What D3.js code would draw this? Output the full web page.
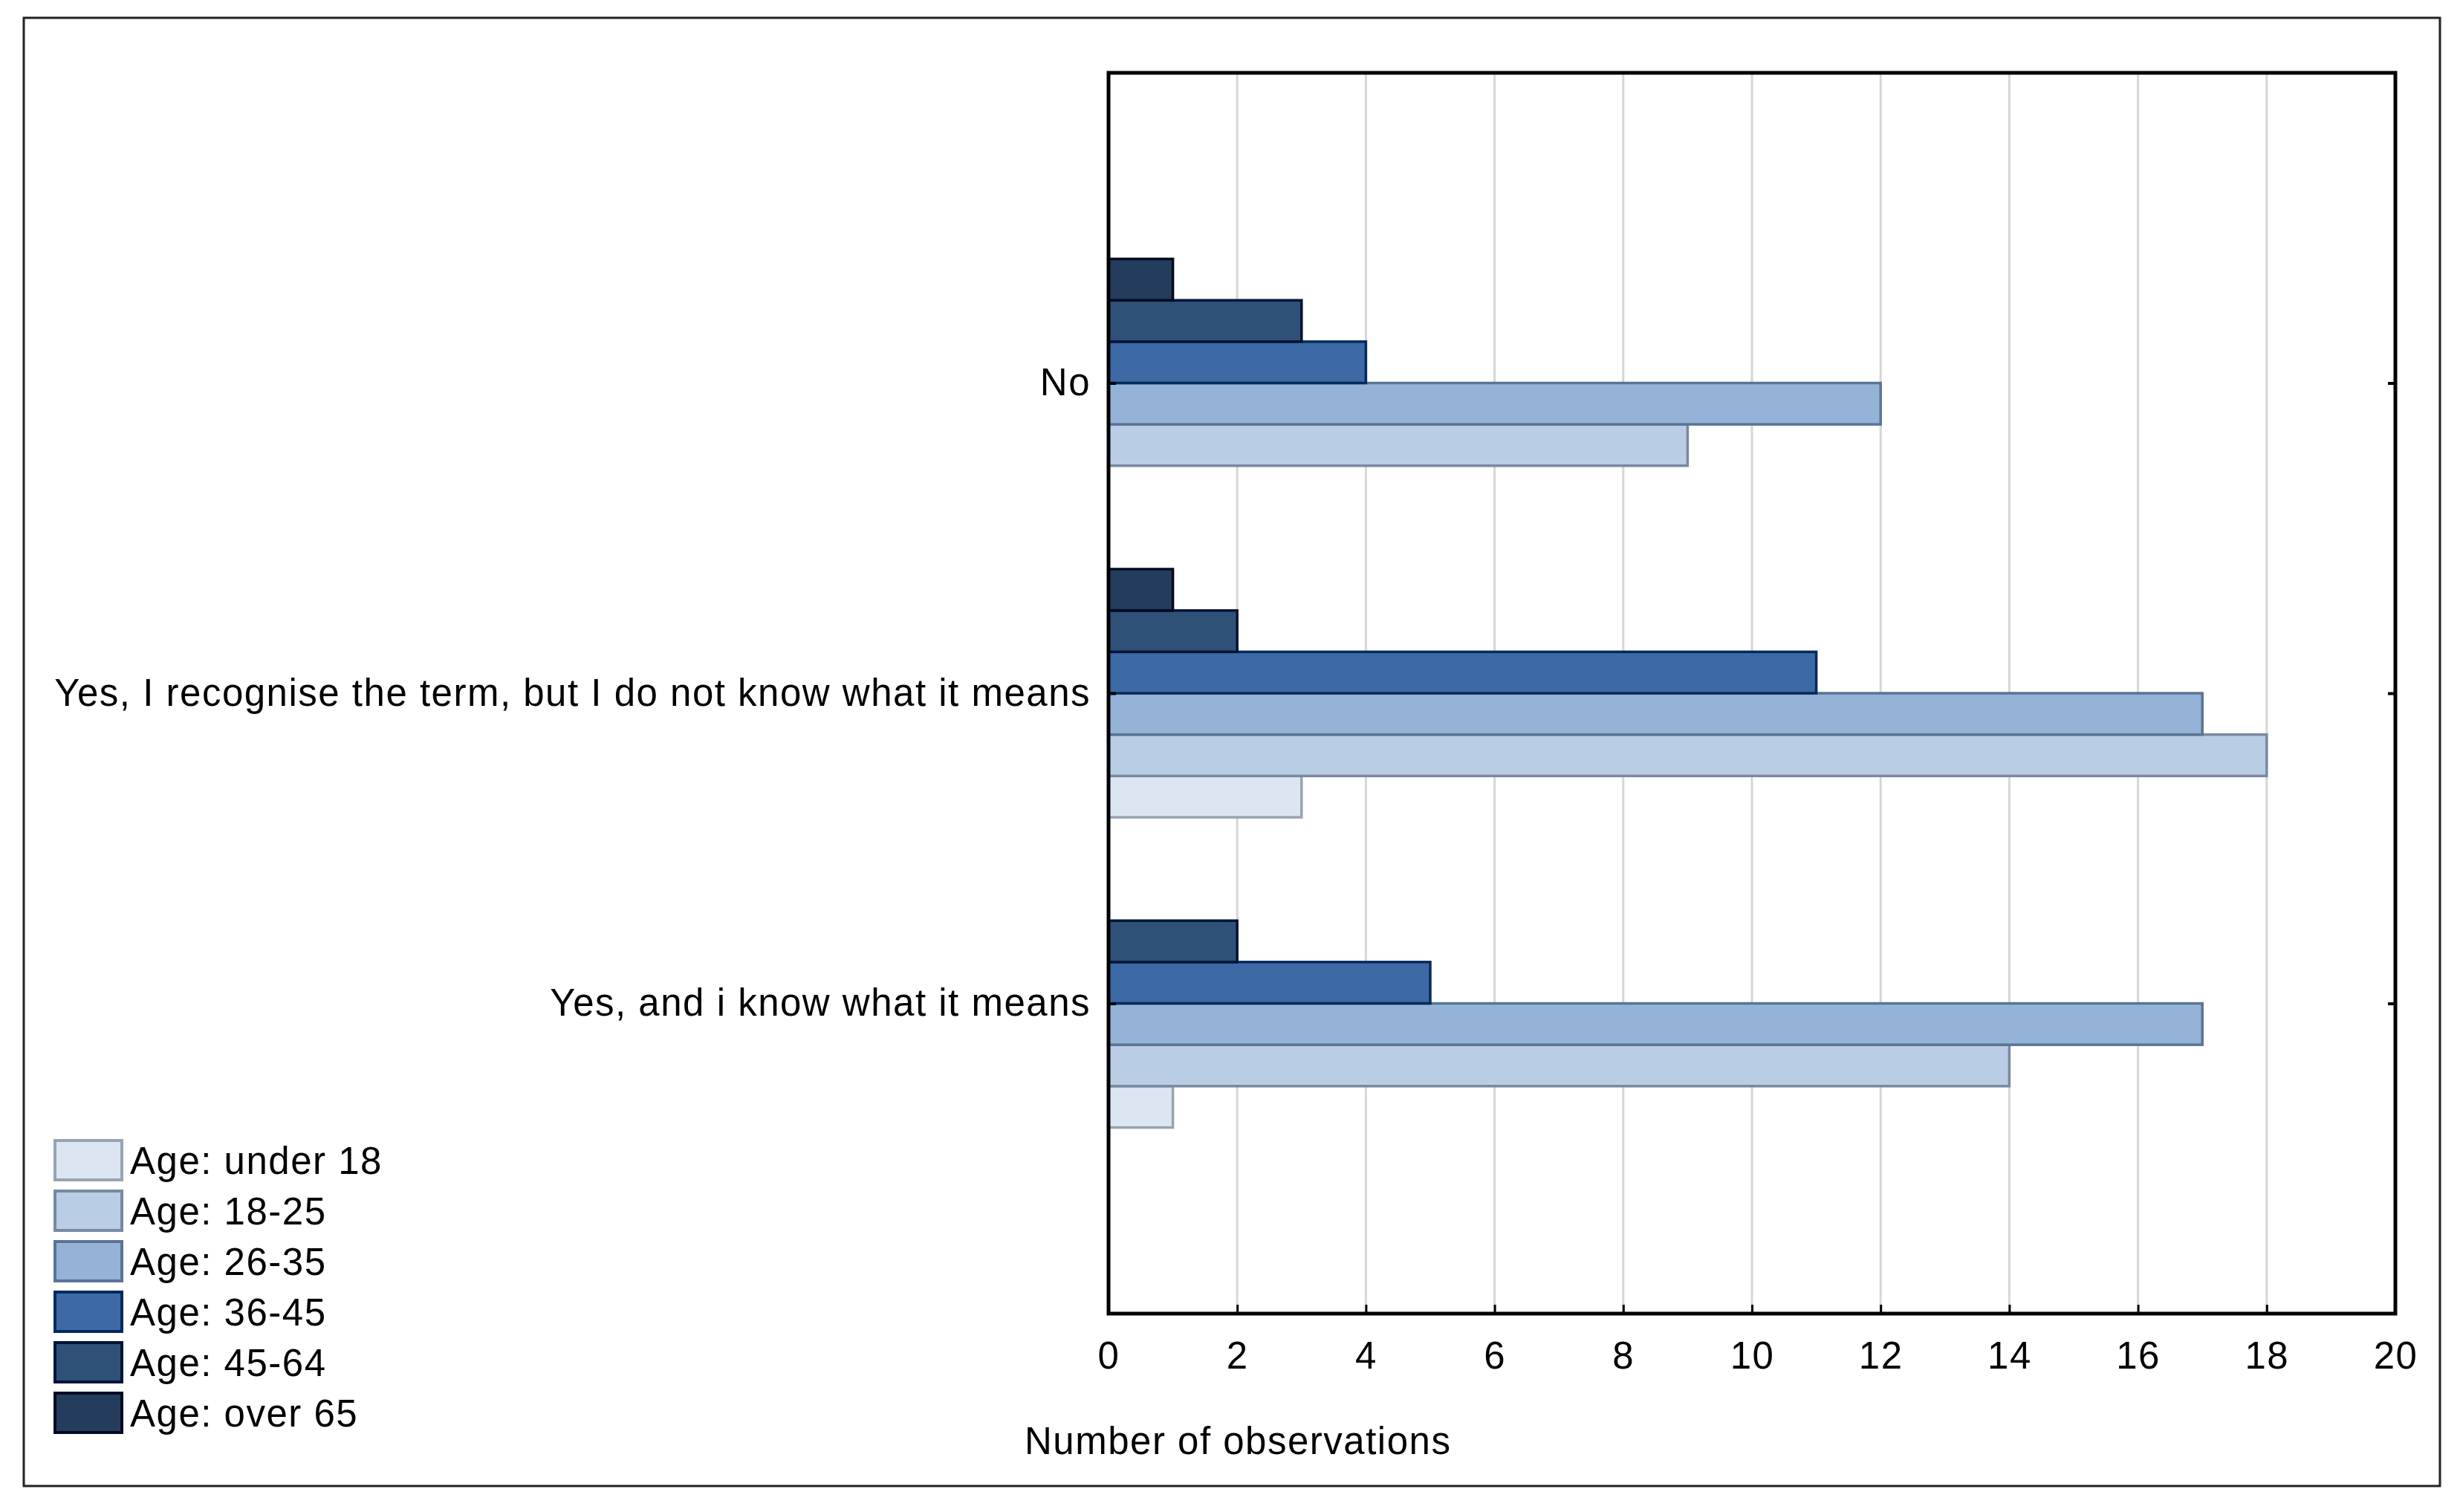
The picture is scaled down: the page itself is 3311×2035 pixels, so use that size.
<!DOCTYPE html>
<html>
<head>
<meta charset="utf-8">
<script src="https://cdn.jsdelivr.net/npm/d3@7/dist/d3.min.js"></script>
<style>
  html, body { margin: 0; padding: 0; background: #fff; }
  svg text { font-family: "Liberation Sans", Arial, sans-serif; fill: #000; }
</style>
</head>
<body>
<div id="vis"></div>
<script>
// answers (top to bottom) and age groups (legend order)
const answers = ["No", "Yes, I recognise the term, but I do not know what it means", "Yes, and i know what it means"];
const ageGroups = ["Age: under 18", "Age: 18-25", "Age: 26-35", "Age: 36-45", "Age: 45-64", "Age: over 65"];

// counts per age group, one value per answer
const under18 = [0, 3, 1];
const age18_25 = [9, 18, 14];
const age26_35 = [12, 17, 17];
const age36_45 = [4, 11, 5];
const age45_64 = [3, 2, 2];
const over65 = [1, 1, 0];

const xTicks = [0, 2, 4, 6, 8, 10, 12, 14, 16, 18, 20];

const fills = ["#dce6f2", "#b9cde5", "#95b3d7", "#3d6aa5", "#2f5178", "#243d5d"];
const strokes = ["#97a3b2", "#7889a0", "#5a7494", "#022a5e", "#001437", "#000a22"];

const series = [under18, age18_25, age26_35, age36_45, age45_64, over65];

const W = 3311, H = 2035;
const plot = {left: 1492, right: 3224, top: 98, bottom: 1768};
const LS = "1.5px";

const svg = d3.select("#vis").append("svg")
  .attr("width", W)
  .attr("height", H)
  .attr("viewBox", `0 0 ${W} ${H}`);

// outer frame
svg.append("rect")
  .attr("x", 32).attr("y", 24)
  .attr("width", 3284 - 32).attr("height", 2000 - 24)
  .attr("fill", "#fff").attr("stroke", "#222").attr("stroke-width", 3);

const x = d3.scaleLinear().domain([0, 20]).range([plot.left, plot.right]);
const y = d3.scalePoint().domain(answers).range([plot.top, plot.bottom]).padding(1);

// bars stacked inside each answer: over 65 at top, under 18 at bottom
const groupH = y.step() * 0.8;
const inner = d3.scaleBand()
  .domain(ageGroups.slice().reverse())
  .range([-groupH / 2, groupH / 2]);

// grid
svg.append("g")
  .selectAll("line")
  .data(xTicks.slice(1, -1))
  .join("line")
  .attr("x1", d => x(d)).attr("x2", d => x(d))
  .attr("y1", plot.top).attr("y2", plot.bottom)
  .attr("stroke", "#d6d6d6")
  .attr("stroke-width", 3);

// bars
const rows = [];
answers.forEach((a, i) => {
  ageGroups.forEach((g, j) => {
    rows.push({answer: a, group: g, k: j, value: series[j][i]});
  });
});

svg.append("g")
  .selectAll("rect")
  .data(rows.filter(d => d.value > 0))
  .join("rect")
  .attr("x", x(0))
  .attr("y", d => y(d.answer) + inner(d.group))
  .attr("width", d => x(d.value) - x(0))
  .attr("height", inner.bandwidth())
  .attr("fill", d => fills[d.k])
  .attr("stroke", d => strokes[d.k])
  .attr("stroke-width", 3.5);

// bottom axis: inward ticks, labels below
const xAxis = d3.axisBottom(x).tickValues(xTicks).tickSize(-12).tickPadding(38);
const gx = svg.append("g")
  .attr("transform", `translate(0,${plot.bottom})`)
  .call(xAxis);
gx.select(".domain").remove();
gx.selectAll(".tick line").attr("stroke", "#000").attr("stroke-width", 3);
gx.selectAll(".tick text")
  .style("font-size", "51px")
  .style("letter-spacing", LS)
  .attr("fill", "#000");

// left axis: category labels, small inward ticks
const yAxis = d3.axisLeft(y).tickSize(-10).tickPadding(24);
const gy = svg.append("g")
  .attr("transform", `translate(${plot.left},0)`)
  .call(yAxis);
gy.select(".domain").remove();
gy.selectAll(".tick line").attr("stroke", "#000").attr("stroke-width", 4);
gy.selectAll(".tick text")
  .style("font-size", "51px")
  .style("letter-spacing", LS)
  .attr("fill", "#000");

// right side ticks
const gr = svg.append("g")
  .attr("transform", `translate(${plot.right},0)`)
  .call(d3.axisRight(y).tickSize(-10).tickFormat(""));
gr.select(".domain").remove();
gr.selectAll(".tick line").attr("stroke", "#000").attr("stroke-width", 4);

// plot frame
svg.append("rect")
  .attr("x", plot.left).attr("y", plot.top)
  .attr("width", plot.right - plot.left).attr("height", plot.bottom - plot.top)
  .attr("fill", "none").attr("stroke", "#000").attr("stroke-width", 5);

// axis title
svg.append("text")
  .attr("x", 1379).attr("y", 1957)
  .style("font-size", "51px")
  .style("letter-spacing", LS)
  .text("Number of observations");

// legend
const legend = svg.append("g")
  .selectAll("g")
  .data(ageGroups)
  .join("g")
  .attr("transform", (d, i) => `translate(72,${1533 + i * 68})`);

legend.append("rect")
  .attr("x", 2).attr("y", 2)
  .attr("width", 90).attr("height", 53)
  .attr("fill", (d, i) => fills[i])
  .attr("stroke", (d, i) => strokes[i])
  .attr("stroke-width", 4);

legend.append("text")
  .attr("x", 103).attr("y", 29)
  .attr("dy", "0.35em")
  .style("font-size", "51px")
  .style("letter-spacing", LS)
  .text(d => d);
</script>
</body>
</html>
